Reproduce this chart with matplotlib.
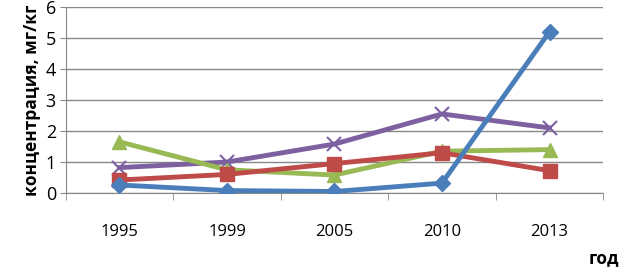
import numpy as np
import matplotlib.pyplot as plt

plt.rcParams['font.family'] = ['Open Sans', 'DejaVu Sans']

years = ["1995", "1999", "2005", "2010", "2013"]
blue = [0.26, 0.08, 0.05, 0.32, 5.2]
red = [0.42, 0.60, 0.95, 1.30, 0.72]
green = [1.65, 0.75, 0.58, 1.35, 1.40]
purple = [0.82, 1.00, 1.58, 2.55, 2.10]

fig = plt.figure(figsize=(6.2, 2.67), dpi=100)
ax = fig.add_axes([0.106, 0.277, 0.867, 0.697])

x = np.arange(len(years))
ax.plot(x, blue, color="#4A7EBB", lw=3.5, marker="D", ms=8, zorder=5)
ax.plot(x, red, color="#BE4B48", lw=3.5, marker="s", ms=10, zorder=4)
ax.plot(x, green, color="#98B954", lw=3.5, marker="^", ms=10, zorder=3)
ax.plot(x, purple, color="#7D60A0", lw=3.5, marker="x", ms=10, mew=1.5, zorder=2)

ax.set_xlim(-0.5, len(years) - 0.5)
ax.set_ylim(0, 6)
ax.set_yticks(range(7))
ax.set_xticks(x)
ax.set_xticklabels(years)
ax.set_xticks(np.arange(-0.5, len(years)), minor=True)
ax.tick_params(axis="x", which="major", length=0, pad=22, labelsize=12)
ax.tick_params(axis="x", which="minor", length=5, color="#888888")
ax.tick_params(axis="y", length=4, color="#888888", labelsize=13, pad=3)
ax.grid(axis="y", color="#888888", lw=1)
ax.set_axisbelow(True)
for s in ["top", "right"]:
    ax.spines[s].set_visible(False)
ax.spines["left"].set_color("#888888")
ax.spines["bottom"].set_color("#888888")

ax.set_ylabel("концентрация, мг/кг", fontsize=12.5, fontweight="bold", labelpad=3)
fig.text(0.998, 0.0, "год", ha="right", va="bottom", fontsize=12.5, fontweight="bold")

fig.savefig("out.png", dpi=100)
